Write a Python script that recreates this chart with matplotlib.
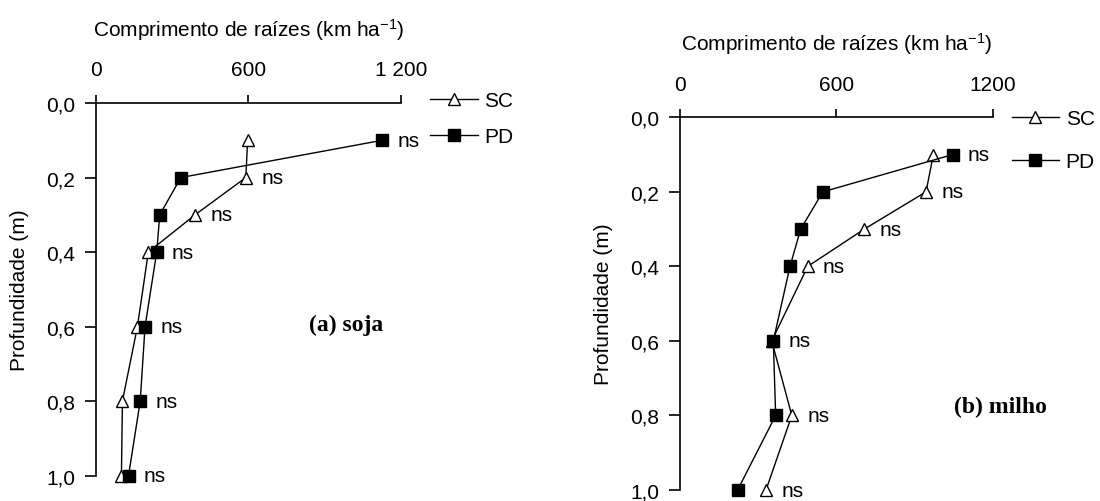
import matplotlib
matplotlib.use("Agg")
from matplotlib import pyplot as plt

plt.rcParams['font.family'] = ['Liberation Sans', 'DejaVu Sans']
plt.rcParams['mathtext.default'] = 'regular'

# profundidades (m)
depth = [0.1, 0.2, 0.3, 0.4, 0.6, 0.8, 1.0]

# comprimento de raizes (km ha-1)
soja_sc = [597, 590, 390, 206, 163, 104, 100]
soja_pd = [1127, 334, 251, 239, 193, 174, 128]
milho_sc = [972, 944, 707, 490, 352, 429, 330]
milho_pd = [1046, 548, 463, 422, 358, 367, 221]

y_ticks = [0.0, 0.2, 0.4, 0.6, 0.8, 1.0]
y_labels = ['0,0', '0,2', '0,4', '0,6', '0,8', '1,0']
x_ticks = [0, 600, 1200]
x_labels_a = ['0', '600', '1 200']
x_labels_b = ['0', '600', '1200']

fig = plt.figure(figsize=(11, 5.02), dpi=100)
ax_a = fig.add_axes([0.0873, 0.0504, 0.2770, 0.7424])
ax_b = fig.add_axes([0.6182, 0.0219, 0.2843, 0.7424])


def draw_panel(ax, sc, pd, x_labels, title, title_pos, leg_anchor, leg_spacing):
    ax.plot(sc, depth, color='black', lw=1.0, marker='^', ms=8,
            mfc='white', mec='black', mew=1.0, label='SC', clip_on=False)
    ax.plot(pd, depth, color='black', lw=1.0, marker='s', ms=8,
            mfc='black', mec='black', label='PD', clip_on=False)

    # "ns" ao lado do maior valor em cada profundidade
    for d, a, b in zip(depth, sc, pd):
        ax.annotate('ns', xy=(max(a, b), d), xytext=(11, 0),
                    textcoords='offset points', ha='left', va='center',
                    fontsize=15)

    ax.set_xlim(0, 1200)
    ax.set_ylim(1.0, 0.0)
    ax.set_xticks(x_ticks)
    ax.set_xticklabels(x_labels)
    ax.set_yticks(y_ticks)
    ax.set_yticklabels(y_labels)
    ax.xaxis.tick_top()
    ax.xaxis.set_label_position('top')
    for s in ['right', 'bottom']:
        ax.spines[s].set_visible(False)
    for s in ['top', 'left']:
        ax.spines[s].set_linewidth(1.2)
    ax.tick_params(axis='x', direction='out', length=6, width=1.2,
                   pad=11, labelsize=15)
    ax.tick_params(axis='y', direction='out', length=8, width=1.2,
                   pad=7, labelsize=15)
    ax.set_xlabel('Comprimento de raízes (km ha$^{-1}$)', fontsize=15,
                  labelpad=18)
    ax.set_ylabel('Profundidade (m)', fontsize=15, labelpad=12)

    ax.text(title_pos[0], title_pos[1], title, transform=ax.transAxes,
            ha='center', va='center', fontsize=17, fontweight='bold',
            family='Liberation Serif')

    ax.legend(loc='upper left', bbox_to_anchor=leg_anchor, frameon=False,
              fontsize=15, handlelength=2.3, handletextpad=0.3,
              borderpad=0, borderaxespad=0, labelspacing=leg_spacing)


draw_panel(ax_a, soja_sc, soja_pd, x_labels_a, '(a) soja', (0.82, 0.407),
           (1.096, 1.032), 0.83)
draw_panel(ax_b, milho_sc, milho_pd, x_labels_b, '(b) milho', (1.023, 0.223),
           (1.06, 1.021), 1.13)

fig.savefig('out.png', dpi=100)
